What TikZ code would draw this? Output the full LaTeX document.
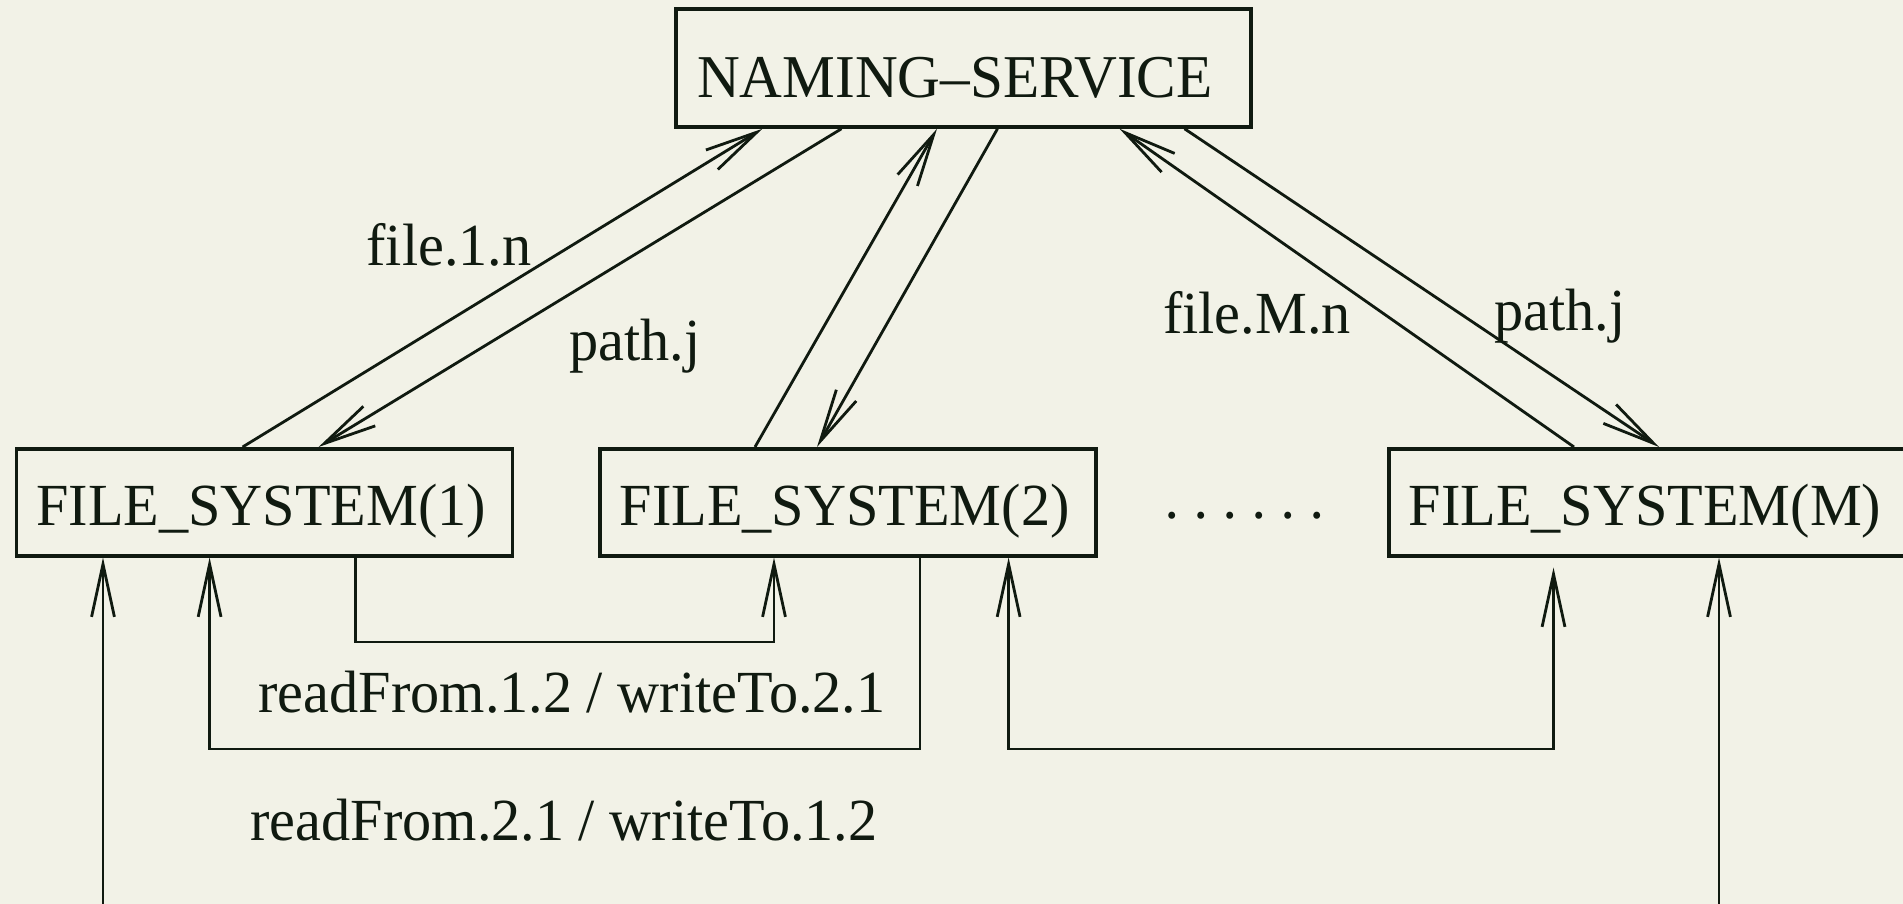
\documentclass[tikz,border=0pt]{standalone}
\usepackage{fontspec}
\setmainfont{Liberation Serif}[FakeStretch=0.975]
\usetikzlibrary{arrows.meta}

\definecolor{paper}{RGB}{242,242,231}
\definecolor{ink}{RGB}{16,26,16}

\newcommand{\pdot}{\makebox[8.3pt]{·}}

\begin{document}
\begin{tikzpicture}[font=\fontsize{17}{20}\selectfont, color=ink]
    \tikzstyle{box}=[rectangle, draw=ink, line width=1pt, text=ink, inner ysep=0pt, text depth=0pt, align=left]
    \tikzstyle{fs}=[box, minimum height=1.07cm, inner xsep=0.2cm, text width=4.56cm, text height=0.47cm, anchor=north west]
    \tikzstyle{msg}=[-{Straight Barb[length=15pt,width=6.5pt]}, draw=ink, line width=0.8pt]
    \tikzstyle{msg2}=[{Straight Barb[length=15pt,width=6.5pt]}-{Straight Barb[length=15pt,width=6.5pt]}, draw=ink, line width=0.8pt]
    \tikzstyle{lbl}=[text=ink, inner sep=0pt]

    \useasboundingbox (0,0) rectangle (19.03,9.04);
    \fill[paper] (0,0) rectangle (19.03,9.04);

    % le serveur et les systemes de fichiers
    \node[box, font=\fontsize{17.3}{20}\selectfont, text width=5.33cm, inner xsep=0.21cm,
          minimum height=1.18cm, text height=0.60cm] (NS) at (9.635,8.36) {NAMING--SERVICE};
    \node[fs] (FS1) at (0.146,4.57) {FILE\_SYSTEM(1)};
    \node[fs] (FS2) at (5.98,4.57) {FILE\_SYSTEM(2)};
    \node[fs, text width=5.5cm] (FSM) at (13.87,4.57) {FILE\_SYSTEM(M)};
    \node[lbl] (dots) at (12.447,3.80) {\pdot\pdot\pdot\pdot\pdot\pdot};

    % les fleches vers le haut...
    \draw[msg] ([xshift=2.28cm] FS1.north west) to ([xshift=-2.01cm] NS.south);
    \draw[msg] ([xshift=-1.22cm] NS.south) to ([xshift=3.04cm] FS1.north west);
    \draw[msg] ([xshift=1.57cm] FS2.north west) to ([xshift=-0.265cm] NS.south);
    \draw[msg] ([xshift=0.34cm] NS.south) to ([xshift=2.19cm] FS2.north west);
    \draw[msg] ([xshift=1.87cm] FSM.north west) to ([xshift=1.56cm] NS.south);
    \draw[msg] ([xshift=2.21cm] NS.south) to ([xshift=2.72cm] FSM.north west);

    \node[lbl] (f1n) at (4.49,6.59) {file.1.n};
    \node[lbl] (p1) at (6.35,5.58) {path.j};
    \node[lbl] (fmn) at (12.57,5.91) {file.M.n};
    \node[lbl] (pm) at (15.60,5.88) {path.j};

    % ...et entre les systemes
    \coordinate (b12) at (3.556,2.62);
    \coordinate (b21) at (9.20,1.55);
    \coordinate (b2m) at (10.086,1.55);
    \coordinate (in1) at (1.03,-0.2);
    \coordinate (inM) at (17.19,-0.2);

    \draw[msg] (b12 |- FS1.south) -- (b12) -| ([xshift=1.76cm] FS2.south west);
    \draw[msg] (b21 |- FS2.south) -- (b21) -| ([xshift=1.95cm] FS1.south west);
    \draw[msg2] (b2m |- FS2.south) -- (b2m) -| ([xshift=1.665cm, yshift=-0.1cm] FSM.south west);
    \draw[msg] (in1) -- (in1 |- FS1.south);
    \draw[msg] (inM) -- (inM |- FSM.south);

    \node[lbl] (rw12) at (5.72,2.12) {readFrom.1.2 / writeTo.2.1};
    \node[lbl] (rw21) at (5.64,0.835) {readFrom.2.1 / writeTo.1.2};
\end{tikzpicture}
\end{document}
